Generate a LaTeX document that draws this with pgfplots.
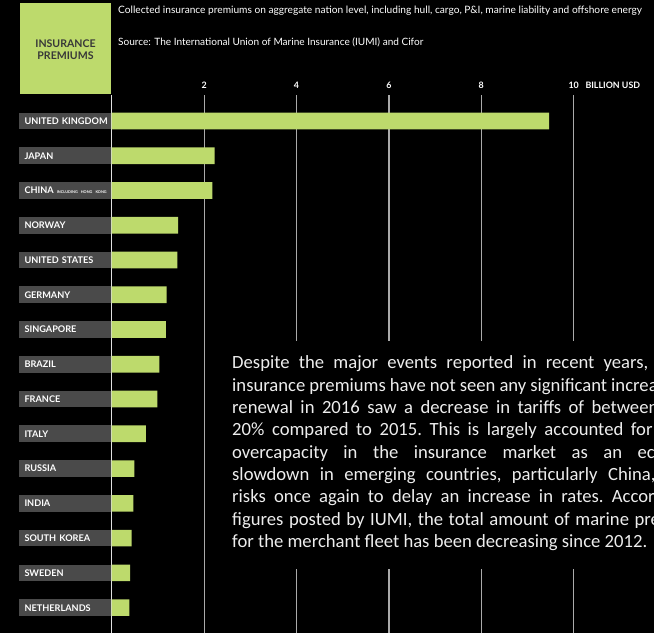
\documentclass[border=0pt]{standalone}
\usepackage{fontspec}
\setmainfont{Lato}
\newfontfamily\carlito{Carlito}
\usepackage{pgfplots}
\pgfplotsset{compat=1.18}
\definecolor{barg}{RGB}{189,218,108}
\definecolor{labg}{RGB}{74,74,74}
\definecolor{gridc}{RGB}{170,170,170}

\begin{document}
\begin{tikzpicture}
\useasboundingbox (0,0) rectangle (654bp,633bp);
\clip (0,0) rectangle (654bp,633bp);
\fill[black] (0,0) rectangle (654bp,633bp);

% header
\fill[barg] (20bp,539bp) rectangle (111bp,630bp);
\node[font=\bfseries\fontsize{10.6}{12}\selectfont, text=black!78, align=center]
  at (65.5bp,583bp) {INSURANCE\\PREMIUMS};
\node[anchor=west, inner sep=0pt, text=white, font=\fontsize{10.2}{11}\selectfont]
  at (118bp,622bp) {Collected insurance premiums on aggregate nation level, including hull, cargo, P\&I, marine liability and offshore energy};
\node[anchor=west, inner sep=0pt, text=white, font=\fontsize{10.1}{11}\selectfont]
  at (118bp,591bp) {Source: The International Union of Marine Insurance (IUMI) and Cifor};

\begin{axis}[
    at={(111.7bp,0bp)}, anchor=south west,
    scale only axis, width=542.3bp, height=538bp,
    xmin=0, xmax=11.738, ymin=-0.748, ymax=14.73,
    y dir=reverse,
    xbar, bar width=0.48,
    axis line style={draw=none},
    tick style={draw=none}, major tick length=0pt,
    xtick={2,4,6,8,10},
    xticklabels={2,4,6,8,{10\rlap{\hspace{0.75em}BILLION USD}}},
    xticklabel pos=upper,
    xticklabel style={font=\bfseries\fontsize{8.9}{9}\selectfont, text=white,
        text height=6.5bp, text depth=0pt, yshift=2.5bp},
    xmajorgrids, grid style={gridc, line width=1.2bp},
    extra x ticks={0}, extra x tick labels={},
    extra x tick style={grid style={white!88!black, line width=1.3bp}},
    ytick={0,...,14},
    yticklabels={\mbox{UNITED KINGDOM}, JAPAN,
        {\mbox{CHINA {\fontsize{3.8}{4}\selectfont INCLUDING HONG KONG}}},
        NORWAY, \mbox{UNITED STATES}, GERMANY, SINGAPORE, BRAZIL, FRANCE, ITALY,
        RUSSIA, INDIA, \mbox{SOUTH KOREA}, SWEDEN, NETHERLANDS},
    yticklabel style={font=\bfseries\fontsize{9.2}{10}\selectfont, text=white,
        fill=labg, anchor=east, align=left, text width=81.5bp,
        inner xsep=5.5bp, inner ysep=0pt, minimum height=16.7bp,
        text height=6.8bp, text depth=0pt},
    /pgf/number format/assume math mode=true,
]
\addplot[fill=barg, draw=none] coordinates {
    (9.47,0) (2.23,1) (2.18,2) (1.44,3) (1.42,4)
    (1.19,5) (1.17,6) (1.03,7) (0.99,8) (0.74,9)
    (0.49,10) (0.47,11) (0.43,12) (0.40,13) (0.38,14)
};
\end{axis}

% text panel
\fill[black] (215bp,64bp) rectangle (660bp,292bp);
\node[anchor=base west, inner sep=0pt, text=white!93!black] at (232bp,264bp)
  {\parbox[t]{479bp}{\carlito\frenchspacing\fontsize{18.72}{22.4}\selectfont
  Despite the major events reported in recent years, marine\linebreak
  insurance premiums have not seen any significant increase. The\linebreak
  renewal in 2016 saw a decrease in tariffs of between 5 and\linebreak
  20\% compared to 2015. This is largely accounted for by the\linebreak
  overcapacity in the insurance market as an economic\linebreak
  slowdown in emerging countries, particularly China, which\linebreak
  risks once again to delay an increase in rates. According to\linebreak
  figures posted by IUMI, the total amount of marine premiums\linebreak
  for the merchant fleet has been decreasing since 2012.}};
\end{tikzpicture}
\end{document}
